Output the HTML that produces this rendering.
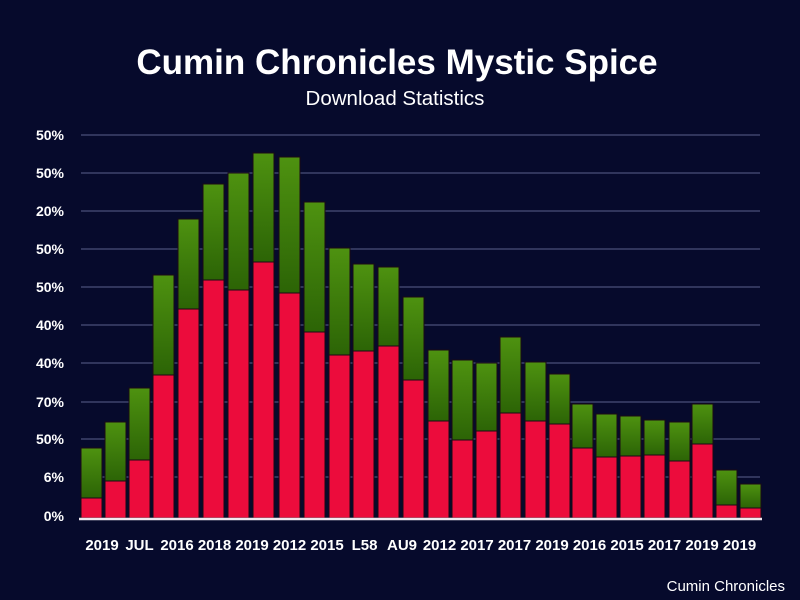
<!DOCTYPE html>
<html><head><meta charset="utf-8"><style>
html,body{margin:0;padding:0;background:#060a2c;}
svg{display:block}
</style></head><body>
<svg width="800" height="600" xmlns="http://www.w3.org/2000/svg" font-family="Liberation Sans, sans-serif">
<defs>
<linearGradient id="g" x1="0" y1="0" x2="0" y2="1"><stop offset="0" stop-color="#4e9210"/><stop offset="1" stop-color="#2c6406"/></linearGradient>
</defs>
<rect width="800" height="600" fill="#060a2c"/>
<text x="397" y="74" text-anchor="middle" font-size="35" font-weight="bold" fill="#fff">Cumin Chronicles Mystic Spice</text>
<text x="395" y="105" text-anchor="middle" font-size="20.5" fill="#fff">Download Statistics</text>
<g stroke="#4a4f78" stroke-width="1.2">
<line x1="81" x2="760" y1="135" y2="135"/><line x1="81" x2="760" y1="173" y2="173"/><line x1="81" x2="760" y1="211" y2="211"/><line x1="81" x2="760" y1="249" y2="249"/><line x1="81" x2="760" y1="287" y2="287"/><line x1="81" x2="760" y1="325" y2="325"/><line x1="81" x2="760" y1="363" y2="363"/><line x1="81" x2="760" y1="402" y2="402"/><line x1="81" x2="760" y1="439" y2="439"/><line x1="81" x2="760" y1="477" y2="477"/>
</g>
<g font-size="14" fill="#fff" text-anchor="end" font-weight="bold">
<text x="64" y="140">50%</text><text x="64" y="178">50%</text><text x="64" y="216">20%</text><text x="64" y="254">50%</text><text x="64" y="292">50%</text><text x="64" y="330">40%</text><text x="64" y="368">40%</text><text x="64" y="407">70%</text><text x="64" y="444">50%</text><text x="64" y="482">6%</text><text x="64" y="521">0%</text>
</g>
<g stroke="#1a0a14" stroke-width="1">
<rect x="81" y="448" width="21" height="50" fill="url(#g)"/><rect x="81" y="498" width="21" height="20" fill="#ec0c3c"/>
<rect x="105" y="422" width="21" height="59" fill="url(#g)"/><rect x="105" y="481" width="21" height="37" fill="#ec0c3c"/>
<rect x="129" y="388" width="21" height="72" fill="url(#g)"/><rect x="129" y="460" width="21" height="58" fill="#ec0c3c"/>
<rect x="153" y="275" width="21" height="100" fill="url(#g)"/><rect x="153" y="375" width="21" height="143" fill="#ec0c3c"/>
<rect x="178" y="219" width="21" height="90" fill="url(#g)"/><rect x="178" y="309" width="21" height="209" fill="#ec0c3c"/>
<rect x="203" y="184" width="21" height="96" fill="url(#g)"/><rect x="203" y="280" width="21" height="238" fill="#ec0c3c"/>
<rect x="228" y="173" width="21" height="117" fill="url(#g)"/><rect x="228" y="290" width="21" height="228" fill="#ec0c3c"/>
<rect x="253" y="153" width="21" height="109" fill="url(#g)"/><rect x="253" y="262" width="21" height="256" fill="#ec0c3c"/>
<rect x="279" y="157" width="21" height="136" fill="url(#g)"/><rect x="279" y="293" width="21" height="225" fill="#ec0c3c"/>
<rect x="304" y="202" width="21" height="130" fill="url(#g)"/><rect x="304" y="332" width="21" height="186" fill="#ec0c3c"/>
<rect x="329" y="248" width="21" height="107" fill="url(#g)"/><rect x="329" y="355" width="21" height="163" fill="#ec0c3c"/>
<rect x="353" y="264" width="21" height="87" fill="url(#g)"/><rect x="353" y="351" width="21" height="167" fill="#ec0c3c"/>
<rect x="378" y="267" width="21" height="79" fill="url(#g)"/><rect x="378" y="346" width="21" height="172" fill="#ec0c3c"/>
<rect x="403" y="297" width="21" height="83" fill="url(#g)"/><rect x="403" y="380" width="21" height="138" fill="#ec0c3c"/>
<rect x="428" y="350" width="21" height="71" fill="url(#g)"/><rect x="428" y="421" width="21" height="97" fill="#ec0c3c"/>
<rect x="452" y="360" width="21" height="80" fill="url(#g)"/><rect x="452" y="440" width="21" height="78" fill="#ec0c3c"/>
<rect x="476" y="363" width="21" height="68" fill="url(#g)"/><rect x="476" y="431" width="21" height="87" fill="#ec0c3c"/>
<rect x="500" y="337" width="21" height="76" fill="url(#g)"/><rect x="500" y="413" width="21" height="105" fill="#ec0c3c"/>
<rect x="525" y="362" width="21" height="59" fill="url(#g)"/><rect x="525" y="421" width="21" height="97" fill="#ec0c3c"/>
<rect x="549" y="374" width="21" height="50" fill="url(#g)"/><rect x="549" y="424" width="21" height="94" fill="#ec0c3c"/>
<rect x="572" y="404" width="21" height="44" fill="url(#g)"/><rect x="572" y="448" width="21" height="70" fill="#ec0c3c"/>
<rect x="596" y="414" width="21" height="43" fill="url(#g)"/><rect x="596" y="457" width="21" height="61" fill="#ec0c3c"/>
<rect x="620" y="416" width="21" height="40" fill="url(#g)"/><rect x="620" y="456" width="21" height="62" fill="#ec0c3c"/>
<rect x="644" y="420" width="21" height="35" fill="url(#g)"/><rect x="644" y="455" width="21" height="63" fill="#ec0c3c"/>
<rect x="669" y="422" width="21" height="39" fill="url(#g)"/><rect x="669" y="461" width="21" height="57" fill="#ec0c3c"/>
<rect x="692" y="404" width="21" height="40" fill="url(#g)"/><rect x="692" y="444" width="21" height="74" fill="#ec0c3c"/>
<rect x="716" y="470" width="21" height="35" fill="url(#g)"/><rect x="716" y="505" width="21" height="13" fill="#ec0c3c"/>
<rect x="740" y="484" width="21" height="24" fill="url(#g)"/><rect x="740" y="508" width="21" height="10" fill="#ec0c3c"/>
</g>
<line x1="79" x2="762" y1="519" y2="519" stroke="#f0e8f0" stroke-width="2.5"/>
<g font-size="15" fill="#fff" text-anchor="middle" font-weight="bold">
<text x="102" y="550">2019</text><text x="139.5" y="550">JUL</text><text x="177" y="550">2016</text><text x="214.5" y="550">2018</text><text x="252" y="550">2019</text><text x="289.5" y="550">2012</text><text x="327" y="550">2015</text><text x="364.5" y="550">L58</text><text x="402" y="550">AU9</text><text x="439.5" y="550">2012</text><text x="477" y="550">2017</text><text x="514.5" y="550">2017</text><text x="552" y="550">2019</text><text x="589.5" y="550">2016</text><text x="627" y="550">2015</text><text x="664.5" y="550">2017</text><text x="702" y="550">2019</text><text x="739.5" y="550">2019</text>
</g>
<text x="785" y="591" text-anchor="end" font-size="15" fill="#fff">Cumin Chronicles</text>
</svg>
</body></html>
